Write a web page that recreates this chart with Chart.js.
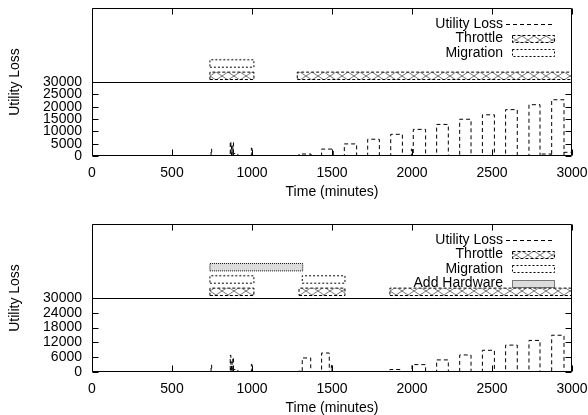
<!DOCTYPE html>
<html>
<head>
<meta charset="utf-8">
<script src="https://cdn.jsdelivr.net/npm/chart.js@4.4.1/dist/chart.umd.min.js"></script>
<style>
  html, body { margin: 0; padding: 0; background: #fff; }
  #wrap { position: relative; width: 588px; height: 415px; }
  canvas { position: absolute; left: 0; }
</style>
</head>
<body>
<div id="wrap">
  <canvas id="top" width="588" height="207" style="top:0"></canvas>
  <canvas id="bottom" width="588" height="208" style="top:207px"></canvas>
</div>
<script>
// x axis (minutes)
const timeTicks = [0, 500, 1000, 1500, 2000, 2500, 3000];

// panel 1 - utility loss pulses
const lossStart1 = [744, 864, 872, 880, 884, 996, 1294, 1435, 1577, 1723, 1867, 1996, 2008, 2154, 2298, 2440, 2585, 2731, 2800, 2873, 2950];
const lossEnd1   = [748, 868, 876, 884, 912, 1000, 1369, 1508, 1654, 1796, 1940, 2000, 2085, 2227, 2369, 2515, 2658, 2800, 2870, 2950, 3000];
const loss1      = [2800, 5900, 4000, 5400, 1000, 3200, 800, 2800, 4900, 6800, 8800, 2800, 10800, 12800, 14900, 16700, 18800, 20800, 800, 22800, 1500];
const yTicks1 = [0, 5000, 10000, 15000, 20000, 25000, 30000];
const throttleStart1 = [737, 1283];
const throttleEnd1   = [1012, 3000];
const migrationStart1 = [737];
const migrationEnd1   = [1012];

// panel 2 - utility loss pulses
const lossStart2 = [744, 864, 872, 880, 884, 996, 1290, 1314, 1435, 1496, 1862, 2000, 2154, 2298, 2440, 2585, 2731, 2873];
const lossEnd2   = [748, 868, 876, 884, 912, 1000, 1314, 1367, 1483, 1500, 1935, 2085, 2227, 2369, 2515, 2658, 2800, 2950];
const loss2      = [2800, 6800, 4000, 5900, 1000, 3100, 300, 5700, 7700, 2700, 1000, 3000, 4900, 6900, 8800, 10900, 12800, 14900];
const yTicks2 = [0, 6000, 12000, 18000, 24000, 30000];
const throttleStart2 = [737, 1294, 1862];
const throttleEnd2   = [1012, 1581, 3000];
const migrationStart2 = [737, 1314];
const migrationEnd2   = [1012, 1581];
const hardwareStart2 = [737];
const hardwareEnd2   = [1317];

// levels of the action bands above the axis break
const breakLevel = 30000;
const throttleBand = [31000, 34000];
const migrationBand = [36000, 39000];
const hardwareBand = [41000, 44000];

Chart.defaults.font.family = '"Liberation Sans", Arial, Helvetica, sans-serif';
Chart.defaults.font.size = 14;
Chart.defaults.color = '#000';

function hatch() {
  const c = document.createElement('canvas');
  c.width = 12; c.height = 8;
  const g = c.getContext('2d');
  g.fillStyle = '#fff';
  g.fillRect(0, 0, 12, 8);
  g.strokeStyle = '#555';
  g.lineWidth = 0.8;
  g.beginPath();
  g.moveTo(0, 0); g.lineTo(12, 8);
  g.moveTo(0, 8); g.lineTo(12, 0);
  g.stroke();
  return g.createPattern(c, 'repeat');
}

const styles = {
  'Utility Loss': { dash: [4, 3] },
  'Throttle': { dash: [3, 2], fill: hatch() },
  'Migration': { dash: [2, 2], fill: '#fff' },
  'Add Hardware': { dash: [1, 1], fill: '#dcdcdc' }
};

function steps(starts, ends, losses) {
  const pts = [{ x: 0, y: 0 }];
  starts.forEach((s, i) => {
    pts.push({ x: s, y: 0 }, { x: s, y: losses[i] }, { x: ends[i], y: losses[i] }, { x: ends[i], y: 0 });
  });
  pts.push({ x: 3000, y: 0 });
  return pts;
}

function boxes(name, starts, ends, band) {
  const st = styles[name];
  return starts.map((s, i) => ({
    label: name,
    data: [
      { x: s, y: band[0] }, { x: ends[i], y: band[0] },
      { x: ends[i], y: band[1] }, { x: s, y: band[1] }, { x: s, y: band[0] }
    ],
    showLine: true,
    fill: 'shape',
    backgroundColor: st.fill,
    borderColor: '#000',
    borderWidth: 1,
    borderDash: st.dash,
    pointRadius: 0
  }));
}

// frame, axis break line and inward ticks like gnuplot
const frame = {
  id: 'frame',
  afterDraw(chart) {
    const { ctx, chartArea: a, scales: { x, y } } = chart;
    const L = Math.round(a.left) + 0.5, R = Math.round(a.right) - 0.5;
    const T = Math.round(a.top) + 0.5, B = Math.round(a.bottom) - 0.5;
    ctx.save();
    ctx.strokeStyle = '#000';
    ctx.lineWidth = 1;
    ctx.setLineDash([]);
    ctx.beginPath();
    ctx.rect(L, T, R - L, B - T);
    const yb = Math.round(y.getPixelForValue(breakLevel)) + 0.5;
    ctx.moveTo(L, yb); ctx.lineTo(R, yb);
    x.ticks.forEach(t => {
      const px = Math.round(x.getPixelForValue(t.value)) + 0.5;
      ctx.moveTo(px, B); ctx.lineTo(px, B - 6);
      ctx.moveTo(px, T); ctx.lineTo(px, T + 6);
    });
    y.ticks.forEach(t => {
      const py = Math.round(y.getPixelForValue(t.value)) + 0.5;
      ctx.moveTo(L, py); ctx.lineTo(L + 6, py);
      ctx.moveTo(R, py); ctx.lineTo(R - 6, py);
    });
    ctx.stroke();

    // key
    const items = chart.options.plugins.frame.items;
    ctx.font = '14px "Liberation Sans", Arial, sans-serif';
    ctx.fillStyle = '#000';
    ctx.textAlign = 'right';
    ctx.textBaseline = 'middle';
    items.forEach((name, i) => {
      const ry = a.top + 16 + i * 14.5;
      ctx.fillText(name, a.right - 69, ry);
      const st = styles[name];
      ctx.setLineDash(st.dash);
      if (!st.fill) {
        ctx.beginPath();
        ctx.moveTo(a.right - 66, Math.round(ry) + 0.5);
        ctx.lineTo(a.right - 19, Math.round(ry) + 0.5);
        ctx.stroke();
      } else {
        const x0 = Math.round(a.right - 60) + 0.5, y0 = Math.round(ry - 4) + 0.5;
        ctx.fillStyle = st.fill;
        ctx.fillRect(x0, y0, 42, 7);
        ctx.strokeRect(x0, y0, 42, 7);
        ctx.fillStyle = '#000';
      }
    });
    ctx.restore();
  }
};

function makeChart(id, p) {
  const datasets = [{
    label: 'Utility Loss',
    data: steps(p.start, p.end, p.loss),
    showLine: true,
    borderColor: '#000',
    borderWidth: 1,
    borderDash: styles['Utility Loss'].dash,
    pointRadius: 0,
    fill: false
  }].concat(
    boxes('Throttle', p.thrStart, p.thrEnd, throttleBand),
    boxes('Migration', p.migStart, p.migEnd, migrationBand),
    boxes('Add Hardware', p.hwStart, p.hwEnd, hardwareBand)
  );

  return new Chart(document.getElementById(id), {
    type: 'scatter',
    data: { datasets },
    options: {
      responsive: false,
      animation: false,
      devicePixelRatio: 1,
      layout: { padding: { top: p.padTop, bottom: p.padBottom, left: 0, right: 0 } },
      plugins: {
        legend: { display: false },
        tooltip: { enabled: false },
        frame: { items: p.key }
      },
      scales: {
        x: {
          type: 'linear', min: 0, max: 3000,
          afterBuildTicks: s => { s.ticks = timeTicks.map(v => ({ value: v })); },
          afterFit: s => { s.height = 43; s.paddingLeft = 0; s.paddingRight = 16; },
          grid: { display: false, drawTicks: false },
          border: { display: false },
          ticks: { padding: 9, autoSkip: false, maxRotation: 0, callback: v => String(v) },
          title: { display: true, text: 'Time (minutes)', font: { size: 14, lineHeight: 1 }, padding: 0 }
        },
        y: {
          type: 'linear', min: 0, max: 2 * breakLevel,
          afterBuildTicks: s => { s.ticks = p.yTicks.map(v => ({ value: v })); },
          afterFit: s => { s.width = 92; s.paddingTop = 0; s.paddingBottom = 0; },
          grid: { display: false, drawTicks: false },
          border: { display: false },
          ticks: { padding: 10, autoSkip: false, callback: v => String(v) },
          title: { display: true, text: 'Utility Loss', font: { size: 14 }, padding: { top: 7, bottom: 0 } }
        }
      }
    },
    plugins: [frame]
  });
}

makeChart('top', {
  start: lossStart1, end: lossEnd1, loss: loss1, yTicks: yTicks1,
  thrStart: throttleStart1, thrEnd: throttleEnd1,
  migStart: migrationStart1, migEnd: migrationEnd1,
  hwStart: [], hwEnd: [],
  key: ['Utility Loss', 'Throttle', 'Migration'],
  padTop: 8, padBottom: 8
});

makeChart('bottom', {
  start: lossStart2, end: lossEnd2, loss: loss2, yTicks: yTicks2,
  thrStart: throttleStart2, thrEnd: throttleEnd2,
  migStart: migrationStart2, migEnd: migrationEnd2,
  hwStart: hardwareStart2, hwEnd: hardwareEnd2,
  key: ['Utility Loss', 'Throttle', 'Migration', 'Add Hardware'],
  padTop: 17, padBottom: 0
});
</script>
</body>
</html>
